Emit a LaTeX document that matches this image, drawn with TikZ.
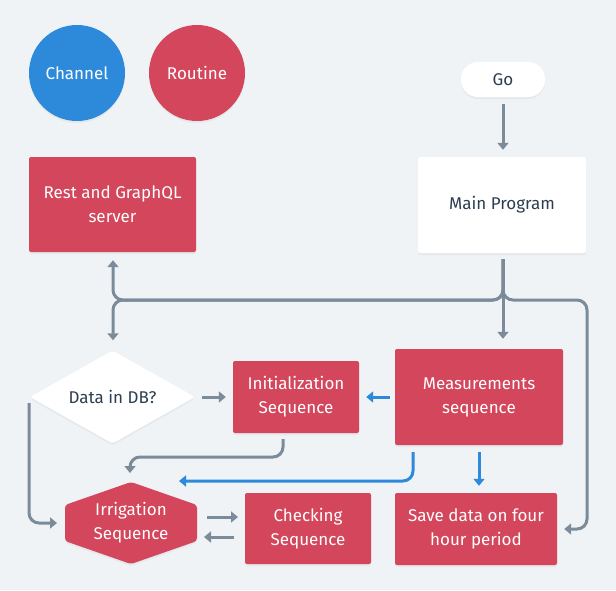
\documentclass[tikz,border=0pt]{standalone}
\usepackage{fontspec}
\setmainfont{Fira Sans}
\usetikzlibrary{arrows.meta,shapes.geometric,shadows}
\definecolor{bgc}{HTML}{EFF3F6}
\definecolor{redc}{HTML}{D3465B}
\definecolor{bluec}{HTML}{2D8ADB}
\definecolor{grayc}{HTML}{7B8B9A}
\definecolor{darkc}{HTML}{2C3E50}
\tikzset{
  x=1pt,y=-1pt,
  every node/.style={font=\fontsize{17}{24}\selectfont, align=center},
  shad/.style={drop shadow={opacity=0.08,shadow xshift=0pt,shadow yshift=-2pt}},
  redbox/.style={fill=redc, text=white, rounded corners=2pt, inner sep=0pt, shad},
  whitebox/.style={fill=white, text=darkc, rounded corners=2pt, inner sep=0pt, shad},
  circ/.style={circle, minimum size=96pt, inner sep=0pt, text=white, shad},
  tip/.style={-{Triangle[width=11pt,length=7pt]}},
  gline/.style={draw=grayc, line width=3pt, rounded corners=10pt, tip},
  bline/.style={draw=bluec, line width=3pt, rounded corners=10pt, tip},
}
\begin{document}
\begin{tikzpicture}
\fill[bgc] (0,0) rectangle (616,590);
\useasboundingbox (0,0) rectangle (616,590);

% legend
\node[circ, fill=bluec] (chan) at (77,73) {Channel};
\node[circ, fill=redc] (rout) at (197,73) {Routine};

% top nodes
\node[whitebox, rounded corners=17pt, minimum width=84pt, minimum height=35pt] (go) at (503,79.5) {Go};
\node[whitebox, minimum width=168pt, minimum height=96pt] (main) at (502,205) {Main Program};
\node[redbox, minimum width=167pt, minimum height=95pt] (rest) at (112.5,204.5) {Rest and GraphQL\\server};

% middle row
\node[diamond, fill=white, text=darkc, aspect=1.77, minimum width=165pt, minimum height=93pt, inner sep=0pt, rounded corners=3pt, shad] (db) at (112.5,397) {Data in DB?};
\node[redbox, minimum width=126pt, minimum height=72pt] (init) at (296,397) {Initialization\\Sequence};
\node[redbox, minimum width=168pt, minimum height=96pt] (meas) at (479,397) {Measurements\\sequence};

% bottom row
\fill[redc, rounded corners=3pt, shad] (131,482) -- (197,505) -- (197,541) -- (131,564) -- (65,541) -- (65,505) -- cycle;
\node[text=white] (irr) at (131,523) {Irrigation\\Sequence};
\node[redbox, minimum width=126pt, minimum height=71pt] (check) at (308,528.5) {Checking\\Sequence};
\node[redbox, minimum width=162pt, minimum height=72pt] (save) at (476,529) {Save data on four\\hour period};

% helper coordinates
\coordinate (split) at (503,300);
\coordinate (lx) at (113,300);
\coordinate (rx) at (587,300);
\coordinate (rdown) at (587,529);
\coordinate (ib) at (283,439);
\coordinate (ij) at (130,457);
\coordinate (dl) at (29,403);
\coordinate (dlb) at (29,523);
\coordinate (mb) at (413,452);
\coordinate (mbl) at (413,481);
\coordinate (bend) at (179,481);

% gray connectors
\draw[gline, shorten <=7pt, shorten >=7pt] (go.south) -- (main.north -| go.south);
\draw[gline, shorten <=6pt, shorten >=10pt] (main.south -| split) -- (meas.north -| split);
\draw[gline, shorten <=6pt, shorten >=8pt] (main.south -| split) -- (split) -- (lx) -- (rest.south -| lx);
\draw[gline, shorten <=6pt, shorten >=10pt] (main.south -| split) -- (split) -- (lx) -- (db.north -| lx);
\draw[gline, shorten <=6pt, shorten >=7pt] (main.south -| split) -- (split) -- (rx) -- (rdown) -- (save.east |- rdown);
\draw[gline, shorten <=6pt] (init.south -| ib) -- (ib |- ij) -- (ij) -- (130,473);
\draw[gline] (dl) -- (dlb) -- (57,523);
\draw[gline] (207,517) -- (238,517);
\draw[gline] (234,537) -- (204,537);
\draw[gline, shorten <=7pt, shorten >=7pt] (db.east) -- (init.west);

% blue connectors
\draw[bline, shorten <=5pt, shorten >=7pt] (meas.west) -- (init.east);
\draw[bline, shorten <=7pt, shorten >=7pt] (meas.south) -- (meas.south |- save.north);
\draw[bline] (mb) -- (mbl) -- (bend);
\end{tikzpicture}
\end{document}
